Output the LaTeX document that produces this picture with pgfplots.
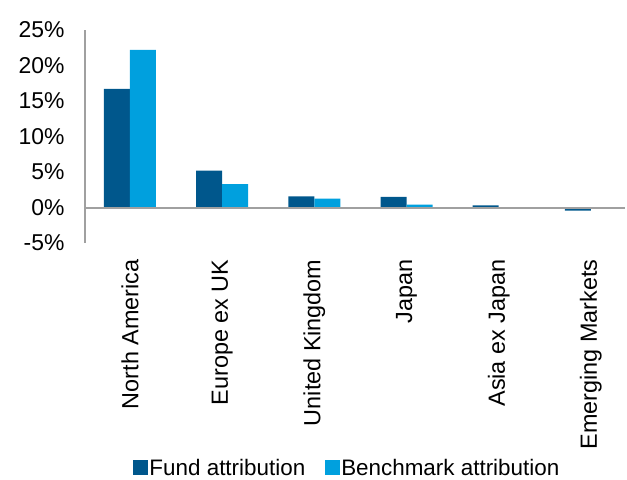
\documentclass[border=0pt]{standalone}
\usepackage{pgfplots}
\pgfplotsset{compat=1.18}
\usepackage{fontspec}
\setmainfont{Liberation Sans}
\definecolor{fundc}{RGB}{0,87,140}
\definecolor{benchc}{RGB}{0,160,222}
\definecolor{axgray}{RGB}{160,160,160}
\begin{document}
\begin{tikzpicture}
\begin{axis}[
  at={(0,0)}, anchor=south west,
  scale only axis, width=540bp, height=213bp,
  xmin=-0.488, xmax=5.37, ymin=-5, ymax=25,
  ybar=0pt, bar width=26bp,
  axis lines=left,
  x axis line style={draw=none},
  y axis line style={axgray, line width=1.5bp, -},
  major tick length=0pt,
  xtick={0,1,2,3,4,5},
  xticklabels={North America, Europe ex UK, United Kingdom, Japan, Asia ex Japan, Emerging Markets},
  xticklabel style={rotate=90, anchor=east, font=\fontsize{23.5}{27}\selectfont},
  xticklabel shift=13bp,
  ytick={-5,0,5,10,15,20,25},
  yticklabels={-5\%,0\%,5\%,10\%,15\%,20\%,25\%},
  yticklabel style={font=\fontsize{23}{27}\selectfont, anchor=east},
  yticklabel shift=17bp,
  legend style={at={(0.485,-1.055)}, anchor=center, draw=none, fill=none,
    legend columns=2, font=\fontsize{22.5}{26}\selectfont,
    nodes={inner xsep=1.5bp, inner ysep=0bp},
    /tikz/every odd column/.append style={column sep=0bp},
    /tikz/every even column/.append style={column sep=18bp}},
  legend image code/.code={\fill[#1] (0bp,-7.5bp) rectangle (15bp,7.5bp);},
]
\addplot[fill=fundc, draw=none] coordinates {(0,16.7) (1,5.2) (2,1.55) (3,1.5) (4,0.3) (5,-0.45)};
\addplot[fill=benchc, draw=none] coordinates {(0,22.2) (1,3.3) (2,1.25) (3,0.4) (4,0.05) (5,0.02)};
\legend{Fund attribution, Benchmark attribution}
\draw[axgray, line width=2bp] (axis cs:-0.488,0) -- (axis cs:5.37,0);
\end{axis}
\pgfresetboundingbox
\path (-85bp,-237bp) rectangle (542bp,243bp);
\end{tikzpicture}
\end{document}
